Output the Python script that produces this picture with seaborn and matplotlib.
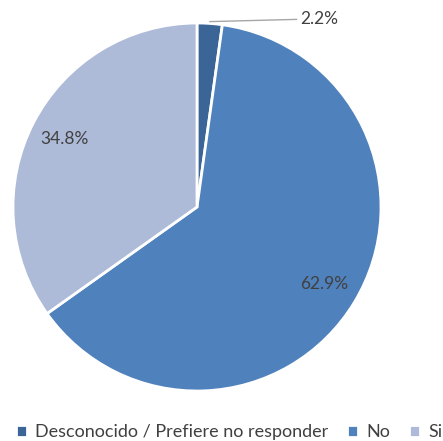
import numpy as np
import matplotlib.pyplot as plt
import seaborn as sns

categories = ['Desconocido / Prefiere no responder', 'No', 'Si']
values = [2.2, 62.9, 34.8]
colors = ['#3B6597', '#4F81BD', '#AEBBD8']

sns.set_theme(style='white')
plt.rcParams['font.family'] = ['Lato', 'DejaVu Sans']

fig = plt.figure(figsize=(4.43, 4.41), dpi=100)
ax = fig.add_axes([13 / 443, 50 / 441, 368 / 443, 368 / 441])

wedges, texts, autotexts = ax.pie(
    values, colors=colors, startangle=90, counterclock=False,
    autopct='%1.1f%%', pctdistance=0.81,
    wedgeprops=dict(edgecolor='white', linewidth=2),
    textprops=dict(color='#404040', fontsize=12.5),
)
# show the reported values, not renormalised shares
for t, v in zip(autotexts, values):
    t.set_text(f'{v:.1f}%')
ax.set_xlim(-1, 1)
ax.set_ylim(-1, 1)
ax.set_aspect('equal')

# small slice: label outside with a leader line
autotexts[0].set_visible(False)
w = wedges[0]
mid = np.deg2rad((w.theta1 + w.theta2) / 2)
x0, y0 = np.cos(mid) * 1.0, np.sin(mid) * 1.0
ax.annotate(f'{values[0]:.1f}%', xy=(x0, y0 + 0.01), xytext=(0.56, 1.02),
            fontsize=12.5, color='#404040', va='center', ha='left',
            arrowprops=dict(arrowstyle='-', color='#A6A6A6', lw=1,
                            shrinkA=0, shrinkB=0,
                            connectionstyle='arc,angleA=180,angleB=0,armA=20,armB=0,rad=0'),
            annotation_clip=False)

leg = fig.legend(wedges, categories, loc='lower left', bbox_to_anchor=(0.0, -0.035),
                 ncol=3, frameon=False, fontsize=13, handlelength=0.6, handleheight=0.6,
                 handletextpad=0.45, columnspacing=1.05, labelcolor='#404040')

fig.savefig('out.png', dpi=100)
